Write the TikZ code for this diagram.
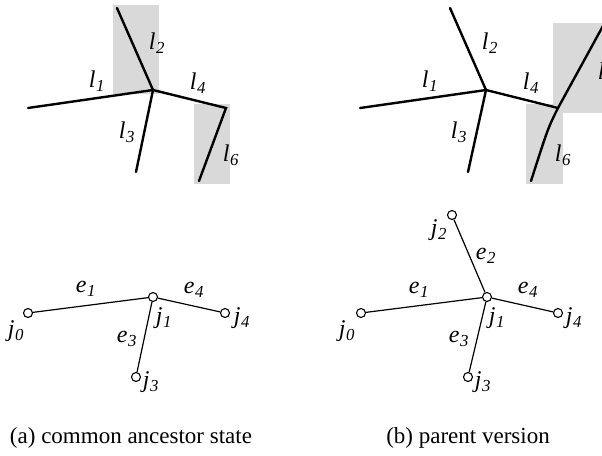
\documentclass[tikz,border=0pt]{standalone}
\usepackage{fontspec}
\setmainfont{Liberation Serif}
\newcommand\sy[2]{\textit{#1}\kern0.5pt\textsubscript{\textit{#2}}}
\tikzset{
  thickline/.style={line width=2.4pt, line cap=round},
  thinline/.style={line width=1.2pt},
  jn/.style={circle, draw, line width=1.1pt, fill=white, minimum size=9pt, inner sep=0pt},
  lab/.style={font=\fontsize{24}{26}\selectfont, inner sep=0pt},
  captext/.style={font=\fontsize{23}{26}\selectfont, inner sep=0pt},
  shade/.style={fill=black!15, draw=none}
}
\begin{document}
\begin{tikzpicture}[x=1pt,y=-1pt]
\useasboundingbox (0,0) rectangle (602,455);
% ---------- (a) top ----------
\fill[shade] (113,5) rectangle (159,94);
\fill[shade] (194,104) rectangle (230,184);
\coordinate (ac) at (153,90);
\coordinate (a1) at (28,108);
\coordinate (a2) at (117,8);
\coordinate (a3) at (136,172);
\coordinate (a4) at (226,108);
\coordinate (a6) at (199,181);
\draw[thickline] (a1) -- (ac);
\draw[thickline] (a2) -- (ac);
\draw[thickline] (ac) -- (a3);
\draw[thickline] (ac) -- (a4) -- (a6);
\node[lab] (la1) at (97,81) {\sy{l}{1}};
\node[lab] (la2) at (157,43) {\sy{l}{2}};
\node[lab] (la3) at (127,132) {\sy{l}{3}};
\node[lab] (la4) at (198,83) {\sy{l}{4}};
\node[lab] (la6) at (231,155) {\sy{l}{6}};
% ---------- (b) top ----------
\fill[shade] (553,23) rectangle (615,113);
\fill[shade] (526,104) rectangle (563,184);
\coordinate (bc) at (486,90);
\coordinate (b1) at (360,108);
\coordinate (b2) at (450,8);
\coordinate (b3) at (468,172);
\coordinate (b4) at (558,108);
\coordinate (b5) at (615,4);
\coordinate (b6) at (531,181);
\draw[thickline] (b1) -- (bc);
\draw[thickline] (b2) -- (bc);
\draw[thickline] (bc) -- (b3);
\draw[thickline] (bc) -- (b4) -- (b5);
\draw[thickline] (b4) .. controls (548,128) .. (b6);
\node[lab] (lb1) at (430,81) {\sy{l}{1}};
\node[lab] (lb2) at (490,43) {\sy{l}{2}};
\node[lab] (lb3) at (459,132) {\sy{l}{3}};
\node[lab] (lb4) at (531,83) {\sy{l}{4}};
\node[lab] (lb5) at (606,73) {\sy{l}{5}};
\node[lab] (lb6) at (563,155) {\sy{l}{6}};
% ---------- (a) bottom ----------
\node[jn] (aj0) at (28,313) {};
\node[jn] (aj1) at (153,297) {};
\node[jn] (aj3) at (136,377) {};
\node[jn] (aj4) at (225,313) {};
\draw[thinline] (aj0) -- (aj1);
\draw[thinline] (aj1) -- (aj3);
\draw[thinline] (aj1) -- (aj4);
\node[lab] (aj0l) at (16,331) {\sy{j}{0}};
\node[lab] (aj1l) at (164,318) {\sy{j}{1}};
\node[lab] (aj3l) at (151,382) {\sy{j}{3}};
\node[lab] (aj4l) at (242,318) {\sy{j}{4}};
\node[lab] (ae1) at (86,289) {\sy{e}{1}};
\node[lab] (ae3) at (127,339) {\sy{e}{3}};
\node[lab] (ae4) at (194,290) {\sy{e}{4}};
% ---------- (b) bottom ----------
\node[jn] (bj0) at (361,313) {};
\node[jn] (bj1) at (487,297) {};
\node[jn] (bj2) at (452,215) {};
\node[jn] (bj3) at (468,377) {};
\node[jn] (bj4) at (558,313) {};
\draw[thinline] (bj0) -- (bj1);
\draw[thinline] (bj2) -- (bj1);
\draw[thinline] (bj1) -- (bj3);
\draw[thinline] (bj1) -- (bj4);
\node[lab] (bj0l) at (347,331) {\sy{j}{0}};
\node[lab] (bj1l) at (497,318) {\sy{j}{1}};
\node[lab] (bj2l) at (439,230) {\sy{j}{2}};
\node[lab] (bj3l) at (483,382) {\sy{j}{3}};
\node[lab] (bj4l) at (574,318) {\sy{j}{4}};
\node[lab] (be1) at (419,290) {\sy{e}{1}};
\node[lab] (be2) at (486,256) {\sy{e}{2}};
\node[lab] (be3) at (459,339) {\sy{e}{3}};
\node[lab] (be4) at (528,290) {\sy{e}{4}};
% ---------- captions ----------
\node[captext] (capa) at (131,438) {(a) common ancestor state};
\node[captext] (capb) at (468,438) {(b) parent version};
\end{tikzpicture}
\end{document}
